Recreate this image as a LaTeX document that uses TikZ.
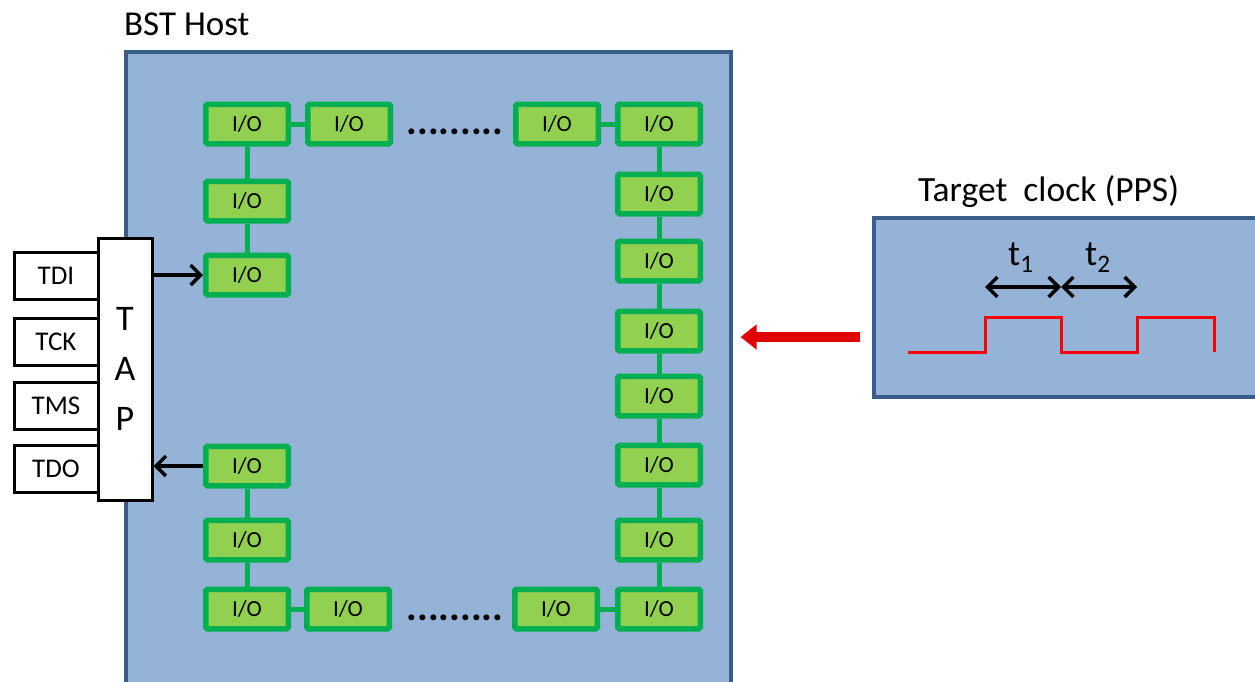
\documentclass[tikz,border=0pt]{standalone}
\usepackage{fontspec}
\setmainfont{Carlito}
\usetikzlibrary{arrows.meta}
\definecolor{hostblue}{HTML}{95B3D7}
\definecolor{hostedge}{HTML}{385D8A}
\definecolor{iofill}{HTML}{92D050}
\definecolor{ioedge}{HTML}{00B050}
\definecolor{pulsered}{HTML}{FF0000}
\definecolor{arrowred}{HTML}{E00000}
\tikzset{
  iobox/.style={draw=ioedge,fill=iofill,line width=5.5pt,rounded corners=1.5pt,
    minimum width=82.5pt,minimum height=39.5pt,inner sep=0pt,font=\fontsize{23}{26}\selectfont},
  pinbox/.style={draw,fill=white,line width=3pt,minimum width=84pt,minimum height=47pt,
    inner sep=0pt,font=\fontsize{27}{30}\selectfont},
  panel/.style={draw=hostedge,fill=hostblue,line width=4pt,inner sep=0pt},
  link/.style={draw=ioedge,line width=5pt},
  blackarrow/.style={line width=3.5pt,-{Straight Barb[length=10pt,width=20pt]}},
  dotrow/.style={inner sep=0pt,anchor=base,font=\bfseries\fontsize{40}{40}\selectfont}
}
\begin{document}
\begin{tikzpicture}[x=1pt,y=-1pt]
\useasboundingbox (0,0) rectangle (1255,681);

\node[panel,minimum width=605pt,minimum height=660pt] (host) at (428,381.5) {};
\node[anchor=base west,inner sep=0pt,font=\fontsize{35}{38}\selectfont] (hostlabel) at (124,35) {BST Host};

\node[panel,minimum width=430pt,minimum height=179pt] (target) at (1088.5,307) {};
\node[anchor=base west,inner sep=0pt,font=\fontsize{35.5}{38}\selectfont] (targetlabel) at (918,201) {Target\ \ clock (PPS)};

\begin{scope}
\node[iobox] (top1) at (247,124) {I/O};
\node[iobox] (top2) at (349,124) {I/O};
\node[iobox] (top3) at (557,124) {I/O};
\node[iobox] (top4) at (659,124) {I/O};
\node[iobox] (left1) at (247,201) {I/O};
\node[iobox] (left2) at (247,275) {I/O};
\node[iobox] (left3) at (247,466) {I/O};
\node[iobox] (left4) at (247,540) {I/O};
\node[iobox] (bot1) at (247,609) {I/O};
\node[iobox] (bot2) at (348,609) {I/O};
\node[iobox] (bot3) at (556,609) {I/O};
\node[iobox] (bot4) at (659,609) {I/O};
\node[iobox] (right1) at (659,194) {I/O};
\node[iobox] (right2) at (659,261) {I/O};
\node[iobox] (right3) at (659,331) {I/O};
\node[iobox] (right4) at (659,396) {I/O};
\node[iobox] (right5) at (659,465) {I/O};
\node[iobox] (right6) at (659,540) {I/O};
\end{scope}

\node[dotrow] (topdots) at (455,134) {.........};
\node[dotrow] (botdots) at (455,620) {.........};

\draw[link] (top1) -- (top2);
\draw[link] (top3) -- (top4);
\draw[link] (top1) -- (left1) -- (left2);
\draw[link] (left3) -- (left4) -- (bot1);
\draw[link] (bot1) -- (bot2);
\draw[link] (bot3) -- (bot4);
\draw[link] (top4) -- (right1) -- (right2) -- (right3) -- (right4) -- (right5) -- (right6) -- (bot4);

\node[pinbox] (tdi) at (56,275.5) {TDI};
\node[pinbox] (tck) at (56,342) {TCK};
\node[pinbox] (tms) at (56,405.5) {TMS};
\node[pinbox] (tdo) at (56,468.5) {TDO};
\node[draw,fill=white,line width=3pt,minimum width=54pt,minimum height=262pt,inner sep=0pt,
  align=center,font=\fontsize{36}{50}\selectfont] (tap) at (125,369) {T\\A\\P};

\draw[blackarrow] (tap.east |- left2) -- (left2.west);
\draw[blackarrow] (left3.west) -- (tap.east |- left3);

\coordinate (redtail) at ([yshift=-30pt]target.west);
\draw[line width=10pt,arrowred,-{Triangle[length=16pt,width=24pt]},shorten <=12pt,shorten >=8pt]
  (redtail) -- (redtail -| host.east);

\draw[pulsered,line width=3pt] (908,352) -- (985,352) -- (985,317) -- (1061,317) -- (1061,352)
  -- (1137,352) -- (1137,317) -- (1214,317) -- (1214,352);

\coordinate (p1) at (985,287);
\coordinate (p2) at (1061,287);
\coordinate (p3) at (1137,287);
\draw[line width=3.5pt,{Straight Barb[length=10pt,width=20pt]}-{Straight Barb[length=10pt,width=20pt]}] (p1) -- (p2);
\draw[line width=3.5pt,{Straight Barb[length=10pt,width=20pt]}-{Straight Barb[length=10pt,width=20pt]}] (p2) -- (p3);
\node[anchor=base west,inner sep=0pt,font=\fontsize{36}{40}\selectfont] (t1) at (1008,265) {t\textsubscript{1}};
\node[anchor=base west,inner sep=0pt,font=\fontsize{36}{40}\selectfont] (t2) at (1085,265) {t\textsubscript{2}};
\end{tikzpicture}
\end{document}
